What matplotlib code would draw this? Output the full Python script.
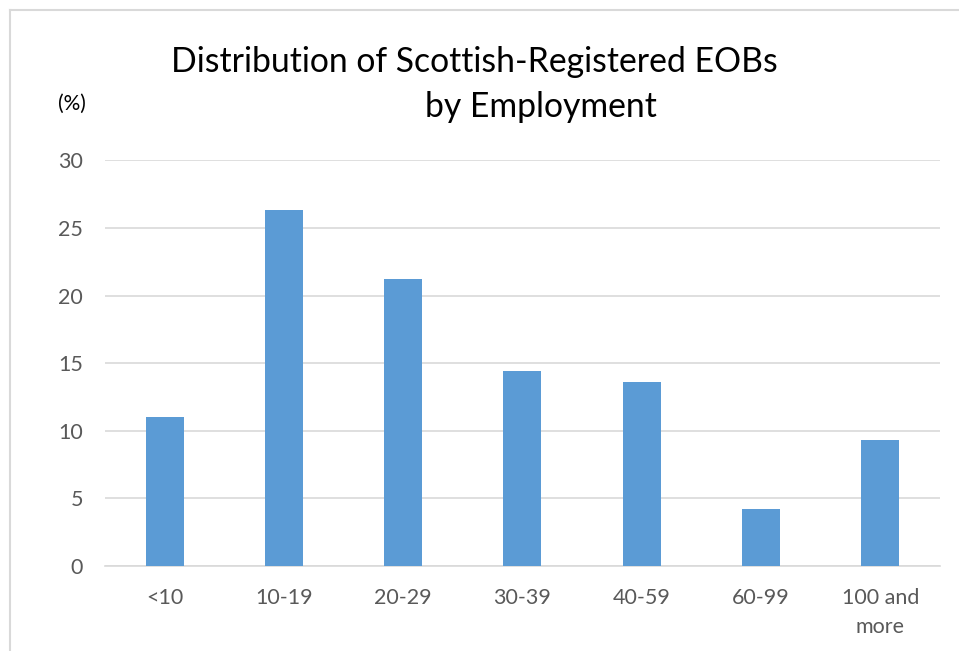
import matplotlib.pyplot as plt
from matplotlib.lines import Line2D

categories = ["<10", "10-19", "20-29", "30-39", "40-59", "60-99", "100 and\nmore"]
shares = [11.0, 26.3, 21.2, 14.4, 13.6, 4.2, 9.3]
y_ticks = [0, 5, 10, 15, 20, 25, 30]

plt.rcParams["font.family"] = ["Lato", "DejaVu Sans"]

fig = plt.figure(figsize=(9.59, 6.51), dpi=100)
ax = fig.add_axes([0.1095, 0.1306, 0.8705, 0.6229])

x = range(len(categories))
ax.bar(x, shares, width=0.32, color="#5b9bd5", zorder=3)

ax.set_xlim(-0.5, len(categories) - 0.5)
ax.set_ylim(0, 30)
ax.set_yticks(y_ticks)
ax.set_xticks(list(x))
ax.set_xticklabels(categories, linespacing=1.55)
ax.tick_params(axis="both", length=0, colors="#595959", labelsize=15.5)
ax.tick_params(axis="x", pad=16)
ax.tick_params(axis="y", pad=16)
ax.grid(axis="y", color="#d9d9d9", linewidth=1.2, zorder=0)
for side in ["top", "right", "left"]:
    ax.spines[side].set_visible(False)
ax.spines["bottom"].set_color("#d9d9d9")
ax.spines["bottom"].set_linewidth(1.2)

fig.text(0.495, 0.905, "Distribution of Scottish-Registered EOBs", ha="center", va="center",
         fontsize=24.3, color="#000000")
fig.text(0.564, 0.836, "by Employment", ha="center", va="center", fontsize=24.3, color="#000000")
fig.text(0.075, 0.841, "(%)", ha="center", va="center", fontsize=15, color="#000000")

# chart-area border
fig.add_artist(Line2D([10 / 959, 1], [1 - 10 / 651, 1 - 10 / 651], transform=fig.transFigure,
                      color="#d9d9d9", linewidth=1.5))
fig.add_artist(Line2D([10 / 959, 10 / 959], [0, 1 - 10 / 651], transform=fig.transFigure,
                      color="#d9d9d9", linewidth=1.5))

fig.savefig("out.png", dpi=100)
